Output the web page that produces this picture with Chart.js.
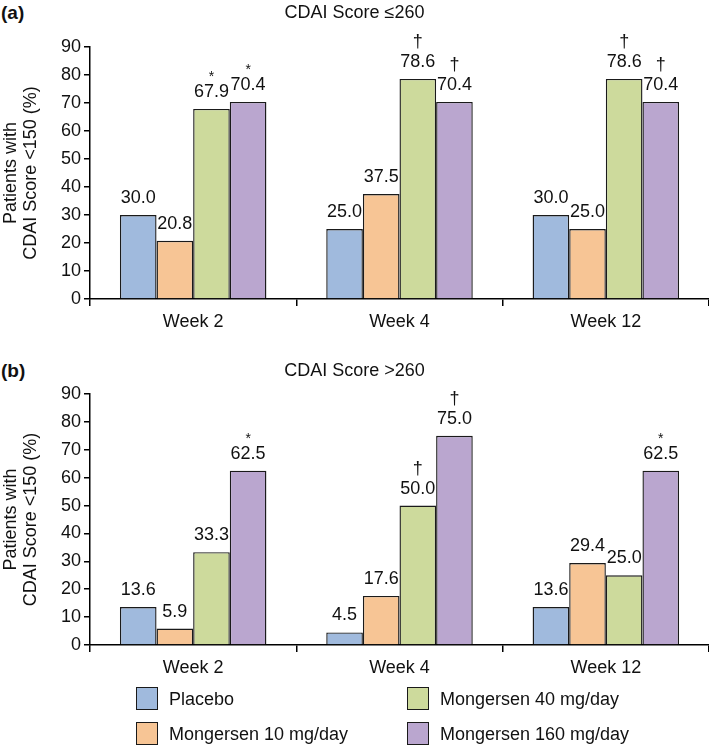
<!DOCTYPE html>
<html>
<head>
<meta charset="utf-8">
<title>CDAI remission by baseline score</title>
<script src="https://cdn.jsdelivr.net/npm/chart.js@4.4.1/dist/chart.umd.min.js"></script>
<style>
  body { margin: 0; background: #fff; font-family: 'Liberation Sans', Arial, sans-serif; color: #111; }
  #wrap { position: relative; width: 709px; height: 746px; overflow: hidden; }
  canvas { position: absolute; left: 0; }
  .tag { position: absolute; left: 1px; font-weight: bold; font-size: 19px; line-height: 20px; }
  .legend-item { position: absolute; font-size: 18px; line-height: 22px; white-space: nowrap; }
  .legend-item .box { position: absolute; left: 0; top: -1px; width: 22px; height: 23px; border: 1.4px solid #1a1a1a; box-sizing: border-box; }
  .legend-item span { position: absolute; left: 33px; top: 0; }
</style>
</head>
<body>
<div id="wrap">
  <div class="tag" style="top:3px">(a)</div>
  <canvas id="chart-low" width="709" height="345" style="top:0"></canvas>
  <div class="tag" style="top:361px">(b)</div>
  <canvas id="chart-high" width="709" height="333" style="top:358px"></canvas>
  <div id="legend"></div>
</div>
<script>
// Categories and series
const weeks = ['Week 2', 'Week 4', 'Week 12'];
const seriesNames = ['Placebo', 'Mongersen 10 mg/day', 'Mongersen 40 mg/day', 'Mongersen 160 mg/day'];
const seriesColors = ['#a0badd', '#f7c595', '#cdda9c', '#baa6cf'];
const yTicks = [0, 10, 20, 30, 40, 50, 60, 70, 80, 90];

// (a) CDAI score <=260
const lowPlacebo = [30.0, 25.0, 30.0];
const lowM10 = [20.8, 37.5, 25.0];
const lowM40 = [67.9, 78.6, 78.6];
const lowM160 = [70.4, 70.4, 70.4];
const lowM40Marks = ['*', '†', '†'];
const lowM160Marks = ['*', '†', '†'];

// (b) CDAI score >260
const highPlacebo = [13.6, 4.5, 13.6];
const highM10 = [5.9, 17.6, 29.4];
const highM40 = [33.3, 50.0, 25.0];
const highM160 = [62.5, 75.0, 62.5];
const highM40Marks = ['', '†', ''];
const highM160Marks = ['*', '†', '*'];

const noMarks = ['', '', ''];
const FONT = "'Liberation Sans', Arial, sans-serif";
const TEXT = '#111';

// Draw value labels and significance marks above each bar
const valueLabels = {
    id: 'valueLabels',
    afterDatasetsDraw(chart) {
        const ctx = chart.ctx;
        chart.data.datasets.forEach((ds, i) => {
            const meta = chart.getDatasetMeta(i);
            meta.data.forEach((bar, j) => {
                const y = bar.y - 17;
                ctx.save();
                ctx.fillStyle = TEXT;
                ctx.textAlign = 'center';
                ctx.textBaseline = 'middle';
                ctx.font = '18px ' + FONT;
                ctx.fillText(ds.data[j].toFixed(1), bar.x, y);
                const mark = ds.marks[j];
                if (mark === '†') {
                    ctx.fillText('†', bar.x, y - 20);
                } else if (mark === '*') {
                    ctx.font = '14px ' + FONT;
                    ctx.fillText('*', bar.x, y - 15);
                }
                ctx.restore();
            });
        });
    }
};

function makeDatasets(values, marks) {
    return values.map((data, i) => ({
        label: seriesNames[i],
        data: data,
        marks: marks[i],
        backgroundColor: seriesColors[i],
        borderColor: '#1a1a1a',
        borderWidth: 1.4,
        categoryPercentage: 0.71,
        barPercentage: 1.0
    }));
}

function createPanel(id, title, values, marks, titlePadBottom) {
    const ctx = document.getElementById(id);
    return new Chart(ctx, {
        type: 'bar',
        data: {
            labels: weeks,
            datasets: makeDatasets(values, marks)
        },
        options: {
            responsive: false,
            animation: false,
            devicePixelRatio: 1,
            layout: { padding: 0 },
            plugins: {
                legend: { display: false },
                tooltip: { enabled: false },
                title: {
                    display: true,
                    text: title,
                    color: TEXT,
                    font: { family: FONT, size: 18, weight: 'normal', lineHeight: 1.2 },
                    padding: { top: 2, bottom: titlePadBottom }
                }
            },
            scales: {
                x: {
                    grid: { drawOnChartArea: false, drawTicks: true, tickLength: 7, color: '#000', lineWidth: 1.5 },
                    border: { display: true, color: '#000', width: 1.5 },
                    ticks: { color: TEXT, font: { family: FONT, size: 18 }, padding: 5 },
                    afterFit: s => { s.height = 46; }
                },
                y: {
                    min: 0,
                    max: 90,
                    afterBuildTicks: s => { s.ticks = yTicks.map(v => ({ value: v })); },
                    grid: { drawOnChartArea: false, drawTicks: true, tickLength: 6, color: '#000', lineWidth: 1.5 },
                    border: { display: true, color: '#000', width: 1.5 },
                    ticks: { color: TEXT, font: { family: FONT, size: 18 }, padding: 3 },
                    title: {
                        display: true,
                        text: ['Patients with', 'CDAI Score <150 (%)'],
                        color: TEXT,
                        font: { family: FONT, size: 18, lineHeight: 1.12 },
                        padding: { top: 1, bottom: 0 }
                    },
                    afterFit: s => { s.width = 90; }
                }
            }
        },
        plugins: [valueLabels]
    });
}

createPanel('chart-low', 'CDAI Score ≤260',
    [lowPlacebo, lowM10, lowM40, lowM160],
    [noMarks, noMarks, lowM40Marks, lowM160Marks], 23.4);

createPanel('chart-high', 'CDAI Score >260',
    [highPlacebo, highM10, highM40, highM160],
    [noMarks, noMarks, highM40Marks, highM160Marks], 12.4);

// Legend: two columns, filled column by column
const legendSpots = [
    { left: 136, top: 688 },
    { left: 136, top: 723 },
    { left: 407, top: 688 },
    { left: 407, top: 723 }
];
const legend = document.getElementById('legend');
seriesNames.forEach((name, i) => {
    const item = document.createElement('div');
    item.className = 'legend-item';
    item.style.left = legendSpots[i].left + 'px';
    item.style.top = legendSpots[i].top + 'px';
    item.innerHTML = '<div class="box" style="background:' + seriesColors[i] + '"></div><span>' + name + '</span>';
    legend.appendChild(item);
});
</script>
</body>
</html>
